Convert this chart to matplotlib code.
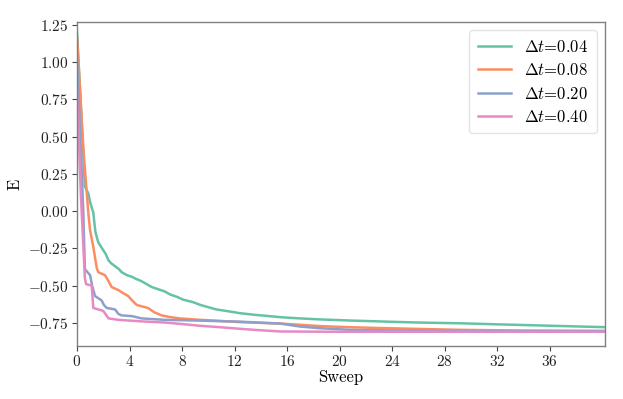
import matplotlib
matplotlib.use("Agg")
import matplotlib.pyplot as plt

# values
sweep_004 = [0, 0.3, 0.6, 0.86, 1.0, 1.24, 1.4, 1.62, 1.98, 2.2, 2.39, 2.6, 2.9, 3.2, 3.4,
             3.8, 4.16, 4.5, 4.9, 5.3, 5.7, 6.2, 6.7, 7.1, 7.6, 8.1, 8.8, 9.4, 10.0, 10.6,
             11.5, 12.4, 13.4, 14.4, 15.5, 16.5, 18.5, 21, 24, 26, 29.2, 32, 35, 38, 40.2]
energy_004 = [1.2, 0.7, 0.165, 0.12, 0.06, -0.01, -0.14, -0.21, -0.26, -0.29, -0.33, -0.35,
              -0.37, -0.39, -0.41, -0.43, -0.44, -0.455, -0.47, -0.49, -0.51, -0.525, -0.54,
              -0.56, -0.575, -0.595, -0.61, -0.63, -0.645, -0.66, -0.672, -0.685, -0.695,
              -0.703, -0.712, -0.718, -0.727, -0.735, -0.743, -0.748, -0.753, -0.76, -0.767,
              -0.774, -0.779]

sweep_008 = [0, 0.5, 0.86, 0.99, 1.24, 1.5, 1.62, 2.13, 2.4, 2.64, 3.15, 3.5, 3.9, 4.2, 4.55,
             5.4, 5.9, 6.45, 7.0, 7.8, 9.4, 12.4, 15.5, 17, 18.5, 21, 24.6, 29.2, 34, 40.2]
energy_008 = [1.17, 0.4, -0.01, -0.126, -0.24, -0.38, -0.41, -0.43, -0.47, -0.51, -0.53,
              -0.55, -0.57, -0.60, -0.63, -0.65, -0.68, -0.70, -0.71, -0.72, -0.73, -0.745,
              -0.755, -0.763, -0.772, -0.78, -0.788, -0.797, -0.802, -0.805]

sweep_020 = [0, 0.3, 0.48, 0.6, 1.0, 1.15, 1.37, 1.88, 2.05, 2.26, 2.9, 3.15, 3.4, 4.2, 4.9,
             6.7, 9.4, 12.4, 15.5, 17, 18.5, 20.8, 25, 30, 40.2]
energy_020 = [1.02, 0.4, -0.01, -0.39, -0.43, -0.5, -0.57, -0.60, -0.63, -0.65, -0.66, -0.69,
              -0.70, -0.705, -0.72, -0.73, -0.735, -0.742, -0.755, -0.775, -0.786, -0.797,
              -0.802, -0.805, -0.805]

sweep_040 = [0, 0.3, 0.6, 0.69, 1.12, 1.24, 2.0, 2.4, 3.15, 4.9, 6.7, 8, 9.4, 11, 12.4, 14,
             15.5, 20, 30, 40.2]
energy_040 = [0.8, 0.1, -0.45, -0.49, -0.5, -0.65, -0.67, -0.72, -0.73, -0.74, -0.748,
              -0.758, -0.77, -0.78, -0.79, -0.80, -0.808, -0.81, -0.81, -0.81]

labels = [r"$\Delta t$=0.04", r"$\Delta t$=0.08", r"$\Delta t$=0.20", r"$\Delta t$=0.40"]
colors = ["#66c2a5", "#fc8d62", "#8da0cb", "#e78ac3"]

plt.rcParams["font.family"] = ["cmr10", "DejaVu Serif"]
plt.rcParams["mathtext.fontset"] = "cm"
plt.rcParams["axes.formatter.use_mathtext"] = True

fig = plt.figure(figsize=(6.23, 3.99), dpi=100)
ax = fig.add_axes([0.1236, 0.133, 0.8474, 0.812])

series = [(sweep_004, energy_004), (sweep_008, energy_008),
          (sweep_020, energy_020), (sweep_040, energy_040)]
for (xs, ys), lab, c in zip(series, labels, colors):
    ax.plot(xs, ys, color=c, lw=1.8, label=lab)

ax.set_xlim(0, 40.2)
ax.set_ylim(-0.905, 1.27)
ax.set_xticks(range(0, 40, 4))
ax.set_yticks([-0.75, -0.5, -0.25, 0, 0.25, 0.5, 0.75, 1.0, 1.25])
ax.set_xlabel("Sweep", fontsize=12, labelpad=0)
ax.set_ylabel("E", fontsize=12)
ax.tick_params(colors="#444444", labelsize=11, length=3.5, width=0.8, pad=2.5)
ax.tick_params(labelcolor="#222222")
for s in ax.spines.values():
    s.set_color("#808080")
    s.set_linewidth(1.0)

leg = ax.legend(loc="upper right", fontsize=12, frameon=True, fancybox=True,
                handlelength=2.0, borderpad=0.5, labelspacing=0.45)
leg.get_frame().set_edgecolor("#dddddd")

fig.savefig("out.png", dpi=100)
